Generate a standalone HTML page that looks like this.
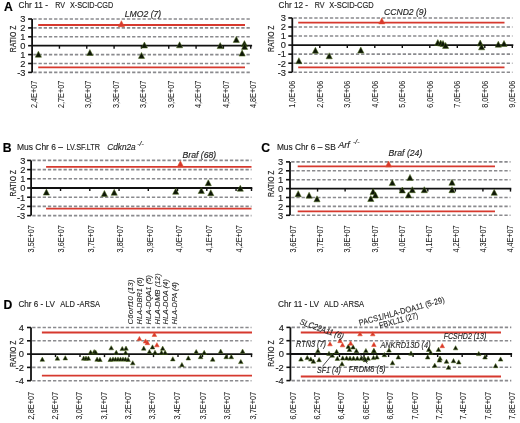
<!DOCTYPE html><html><head><meta charset="utf-8"><style>html,body{margin:0;padding:0;background:#fff;width:520px;height:423px;overflow:hidden}svg{display:block;filter:blur(0.35px)}text{font-family:"Liberation Sans",sans-serif;stroke:currentColor;stroke-width:0.15px}</style></head><body>
<svg width="520" height="423" viewBox="0 0 520 423">
<rect width="520" height="423" fill="#fff"/>
<line x1="33.3" y1="19" x2="251.3" y2="19" stroke="#8a8a8e" stroke-width="1.6" stroke-dasharray="3.3 1.9"/>
<line x1="33.3" y1="27.9" x2="251.3" y2="27.9" stroke="#8a8a8e" stroke-width="1.6" stroke-dasharray="3.3 1.9"/>
<line x1="33.3" y1="36.8" x2="251.3" y2="36.8" stroke="#8a8a8e" stroke-width="1.6" stroke-dasharray="3.3 1.9"/>
<line x1="33.3" y1="54.6" x2="251.3" y2="54.6" stroke="#8a8a8e" stroke-width="1.6" stroke-dasharray="3.3 1.9"/>
<line x1="33.3" y1="63.5" x2="251.3" y2="63.5" stroke="#8a8a8e" stroke-width="1.6" stroke-dasharray="3.3 1.9"/>
<line x1="33.3" y1="72.4" x2="251.3" y2="72.4" stroke="#8a8a8e" stroke-width="1.6" stroke-dasharray="3.3 1.9"/>
<line x1="38.2" y1="25" x2="245" y2="25" stroke="#d6392e" stroke-width="1.8"/>
<line x1="38.2" y1="67.3" x2="245" y2="67.3" stroke="#d6392e" stroke-width="1.8"/>
<line x1="32.1" y1="19" x2="32.1" y2="72.4" stroke="#111" stroke-width="1.8"/>
<line x1="28.1" y1="19" x2="32.1" y2="19" stroke="#111" stroke-width="1.6"/>
<line x1="28.1" y1="27.9" x2="32.1" y2="27.9" stroke="#111" stroke-width="1.6"/>
<line x1="28.1" y1="36.8" x2="32.1" y2="36.8" stroke="#111" stroke-width="1.6"/>
<line x1="28.1" y1="45.7" x2="32.1" y2="45.7" stroke="#111" stroke-width="1.6"/>
<line x1="28.1" y1="54.6" x2="32.1" y2="54.6" stroke="#111" stroke-width="1.6"/>
<line x1="28.1" y1="63.5" x2="32.1" y2="63.5" stroke="#111" stroke-width="1.6"/>
<line x1="28.1" y1="72.4" x2="32.1" y2="72.4" stroke="#111" stroke-width="1.6"/>
<text x="25.5" y="22.3" font-size="9.3" text-anchor="end" fill="#1e1e1e" color="#1e1e1e">3</text>
<text x="25.5" y="31.2" font-size="9.3" text-anchor="end" fill="#1e1e1e" color="#1e1e1e">2</text>
<text x="25.5" y="40.1" font-size="9.3" text-anchor="end" fill="#1e1e1e" color="#1e1e1e">1</text>
<text x="25.5" y="49" font-size="9.3" text-anchor="end" fill="#1e1e1e" color="#1e1e1e">0</text>
<text x="25.5" y="57.9" font-size="9.3" text-anchor="end" fill="#1e1e1e" color="#1e1e1e">1</text>
<text x="25.5" y="66.8" font-size="9.3" text-anchor="end" fill="#1e1e1e" color="#1e1e1e">2</text>
<text x="25.5" y="75.7" font-size="9.3" text-anchor="end" fill="#1e1e1e" color="#1e1e1e">-3</text>
<line x1="32.1" y1="45.7" x2="252.1" y2="45.7" stroke="#111" stroke-width="1.8"/>
<line x1="59.43" y1="45.7" x2="59.43" y2="48.7" stroke="#111" stroke-width="1.4"/>
<line x1="86.76" y1="45.7" x2="86.76" y2="48.7" stroke="#111" stroke-width="1.4"/>
<line x1="114.09" y1="45.7" x2="114.09" y2="48.7" stroke="#111" stroke-width="1.4"/>
<line x1="141.42" y1="45.7" x2="141.42" y2="48.7" stroke="#111" stroke-width="1.4"/>
<line x1="168.75" y1="45.7" x2="168.75" y2="48.7" stroke="#111" stroke-width="1.4"/>
<line x1="196.08" y1="45.7" x2="196.08" y2="48.7" stroke="#111" stroke-width="1.4"/>
<line x1="223.41" y1="45.7" x2="223.41" y2="48.7" stroke="#111" stroke-width="1.4"/>
<line x1="250.74" y1="45.7" x2="250.74" y2="48.7" stroke="#111" stroke-width="1.4"/>
<text transform="translate(15.9 38.9) rotate(-90)" font-size="9.2" text-anchor="middle" fill="#1e1e1e" color="#1e1e1e" textLength="26.5" lengthAdjust="spacingAndGlyphs">RATIO Z</text>
<text transform="translate(36.5 80.8) rotate(-90)" font-size="8.8" text-anchor="end" fill="#1e1e1e" color="#1e1e1e" textLength="27.2" lengthAdjust="spacingAndGlyphs" style="stroke-width:0.05px">2,4E+07</text>
<text transform="translate(63.93 80.8) rotate(-90)" font-size="8.8" text-anchor="end" fill="#1e1e1e" color="#1e1e1e" textLength="27.2" lengthAdjust="spacingAndGlyphs" style="stroke-width:0.05px">2,7E+07</text>
<text transform="translate(91.36 80.8) rotate(-90)" font-size="8.8" text-anchor="end" fill="#1e1e1e" color="#1e1e1e" textLength="27.2" lengthAdjust="spacingAndGlyphs" style="stroke-width:0.05px">3,0E+07</text>
<text transform="translate(118.79 80.8) rotate(-90)" font-size="8.8" text-anchor="end" fill="#1e1e1e" color="#1e1e1e" textLength="27.2" lengthAdjust="spacingAndGlyphs" style="stroke-width:0.05px">3,3E+07</text>
<text transform="translate(146.22 80.8) rotate(-90)" font-size="8.8" text-anchor="end" fill="#1e1e1e" color="#1e1e1e" textLength="27.2" lengthAdjust="spacingAndGlyphs" style="stroke-width:0.05px">3,6E+07</text>
<text transform="translate(173.65 80.8) rotate(-90)" font-size="8.8" text-anchor="end" fill="#1e1e1e" color="#1e1e1e" textLength="27.2" lengthAdjust="spacingAndGlyphs" style="stroke-width:0.05px">3,9E+07</text>
<text transform="translate(201.08 80.8) rotate(-90)" font-size="8.8" text-anchor="end" fill="#1e1e1e" color="#1e1e1e" textLength="27.2" lengthAdjust="spacingAndGlyphs" style="stroke-width:0.05px">4,2E+07</text>
<text transform="translate(228.51 80.8) rotate(-90)" font-size="8.8" text-anchor="end" fill="#1e1e1e" color="#1e1e1e" textLength="27.2" lengthAdjust="spacingAndGlyphs" style="stroke-width:0.05px">4,5E+07</text>
<text transform="translate(255.94 80.8) rotate(-90)" font-size="8.8" text-anchor="end" fill="#1e1e1e" color="#1e1e1e" textLength="27.2" lengthAdjust="spacingAndGlyphs" style="stroke-width:0.05px">4,8E+07</text>
<polygon points="38.4,51.2 35.3,57.2 41.5,57.2" fill="#0e1608" stroke="#4d6a1a" stroke-width="0.5"/>
<polygon points="89.9,49.5 86.8,55.5 93,55.5" fill="#0e1608" stroke="#4d6a1a" stroke-width="0.5"/>
<polygon points="144.4,42 141.3,48 147.5,48" fill="#0e1608" stroke="#4d6a1a" stroke-width="0.5"/>
<polygon points="141.5,52.4 138.4,58.4 144.6,58.4" fill="#0e1608" stroke="#4d6a1a" stroke-width="0.5"/>
<polygon points="179.6,41.8 176.5,47.8 182.7,47.8" fill="#0e1608" stroke="#4d6a1a" stroke-width="0.5"/>
<polygon points="220.2,42.6 217.1,48.6 223.3,48.6" fill="#0e1608" stroke="#4d6a1a" stroke-width="0.5"/>
<polygon points="236.3,36.4 233.2,42.4 239.4,42.4" fill="#0e1608" stroke="#4d6a1a" stroke-width="0.5"/>
<polygon points="244.4,40.6 241.3,46.6 247.5,46.6" fill="#0e1608" stroke="#4d6a1a" stroke-width="0.5"/>
<polygon points="244.6,43.4 241.5,49.4 247.7,49.4" fill="#0e1608" stroke="#4d6a1a" stroke-width="0.5"/>
<polygon points="242.1,50.1 239,56.1 245.2,56.1" fill="#0e1608" stroke="#4d6a1a" stroke-width="0.5"/>
<polygon points="121.4,20.7 118.3,26.7 124.5,26.7" fill="#d6392e" stroke="#e8502a" stroke-width="0.5"/>
<line x1="293.5" y1="17.95" x2="512.5" y2="17.95" stroke="#8a8a8e" stroke-width="1.6" stroke-dasharray="3.3 1.9"/>
<line x1="293.5" y1="27" x2="512.5" y2="27" stroke="#8a8a8e" stroke-width="1.6" stroke-dasharray="3.3 1.9"/>
<line x1="293.5" y1="36.05" x2="512.5" y2="36.05" stroke="#8a8a8e" stroke-width="1.6" stroke-dasharray="3.3 1.9"/>
<line x1="293.5" y1="54.15" x2="512.5" y2="54.15" stroke="#8a8a8e" stroke-width="1.6" stroke-dasharray="3.3 1.9"/>
<line x1="293.5" y1="63.2" x2="512.5" y2="63.2" stroke="#8a8a8e" stroke-width="1.6" stroke-dasharray="3.3 1.9"/>
<line x1="293.5" y1="72.25" x2="512.5" y2="72.25" stroke="#8a8a8e" stroke-width="1.6" stroke-dasharray="3.3 1.9"/>
<line x1="298.2" y1="22.7" x2="504.5" y2="22.7" stroke="#d6392e" stroke-width="1.8"/>
<line x1="298.2" y1="67.3" x2="504.5" y2="67.3" stroke="#d6392e" stroke-width="1.8"/>
<line x1="292.3" y1="17.95" x2="292.3" y2="72.25" stroke="#111" stroke-width="1.8"/>
<line x1="288.3" y1="17.95" x2="292.3" y2="17.95" stroke="#111" stroke-width="1.6"/>
<line x1="288.3" y1="27" x2="292.3" y2="27" stroke="#111" stroke-width="1.6"/>
<line x1="288.3" y1="36.05" x2="292.3" y2="36.05" stroke="#111" stroke-width="1.6"/>
<line x1="288.3" y1="45.1" x2="292.3" y2="45.1" stroke="#111" stroke-width="1.6"/>
<line x1="288.3" y1="54.15" x2="292.3" y2="54.15" stroke="#111" stroke-width="1.6"/>
<line x1="288.3" y1="63.2" x2="292.3" y2="63.2" stroke="#111" stroke-width="1.6"/>
<line x1="288.3" y1="72.25" x2="292.3" y2="72.25" stroke="#111" stroke-width="1.6"/>
<text x="286" y="21.25" font-size="9.3" text-anchor="end" fill="#1e1e1e" color="#1e1e1e">3</text>
<text x="286" y="30.3" font-size="9.3" text-anchor="end" fill="#1e1e1e" color="#1e1e1e">2</text>
<text x="286" y="39.35" font-size="9.3" text-anchor="end" fill="#1e1e1e" color="#1e1e1e">1</text>
<text x="286" y="48.4" font-size="9.3" text-anchor="end" fill="#1e1e1e" color="#1e1e1e">0</text>
<text x="286" y="57.45" font-size="9.3" text-anchor="end" fill="#1e1e1e" color="#1e1e1e">-1</text>
<text x="286" y="66.5" font-size="9.3" text-anchor="end" fill="#1e1e1e" color="#1e1e1e">-2</text>
<text x="286" y="75.55" font-size="9.3" text-anchor="end" fill="#1e1e1e" color="#1e1e1e">-3</text>
<line x1="292.3" y1="45.1" x2="513.3" y2="45.1" stroke="#111" stroke-width="1.8"/>
<line x1="319.8" y1="45.1" x2="319.8" y2="48.1" stroke="#111" stroke-width="1.4"/>
<line x1="347.3" y1="45.1" x2="347.3" y2="48.1" stroke="#111" stroke-width="1.4"/>
<line x1="374.8" y1="45.1" x2="374.8" y2="48.1" stroke="#111" stroke-width="1.4"/>
<line x1="402.3" y1="45.1" x2="402.3" y2="48.1" stroke="#111" stroke-width="1.4"/>
<line x1="429.8" y1="45.1" x2="429.8" y2="48.1" stroke="#111" stroke-width="1.4"/>
<line x1="457.3" y1="45.1" x2="457.3" y2="48.1" stroke="#111" stroke-width="1.4"/>
<line x1="484.8" y1="45.1" x2="484.8" y2="48.1" stroke="#111" stroke-width="1.4"/>
<line x1="512.3" y1="45.1" x2="512.3" y2="48.1" stroke="#111" stroke-width="1.4"/>
<text transform="translate(274 38.7) rotate(-90)" font-size="9.2" text-anchor="middle" fill="#1e1e1e" color="#1e1e1e" textLength="26.5" lengthAdjust="spacingAndGlyphs">RATIO Z</text>
<text transform="translate(295.1 80.6) rotate(-90)" font-size="8.8" text-anchor="end" fill="#1e1e1e" color="#1e1e1e" textLength="27.2" lengthAdjust="spacingAndGlyphs" style="stroke-width:0.05px">1,0E+06</text>
<text transform="translate(322.6 80.6) rotate(-90)" font-size="8.8" text-anchor="end" fill="#1e1e1e" color="#1e1e1e" textLength="27.2" lengthAdjust="spacingAndGlyphs" style="stroke-width:0.05px">2,0E+06</text>
<text transform="translate(350.1 80.6) rotate(-90)" font-size="8.8" text-anchor="end" fill="#1e1e1e" color="#1e1e1e" textLength="27.2" lengthAdjust="spacingAndGlyphs" style="stroke-width:0.05px">3,0E+06</text>
<text transform="translate(377.6 80.6) rotate(-90)" font-size="8.8" text-anchor="end" fill="#1e1e1e" color="#1e1e1e" textLength="27.2" lengthAdjust="spacingAndGlyphs" style="stroke-width:0.05px">4,0E+06</text>
<text transform="translate(405.1 80.6) rotate(-90)" font-size="8.8" text-anchor="end" fill="#1e1e1e" color="#1e1e1e" textLength="27.2" lengthAdjust="spacingAndGlyphs" style="stroke-width:0.05px">5,0E+06</text>
<text transform="translate(432.6 80.6) rotate(-90)" font-size="8.8" text-anchor="end" fill="#1e1e1e" color="#1e1e1e" textLength="27.2" lengthAdjust="spacingAndGlyphs" style="stroke-width:0.05px">6,0E+06</text>
<text transform="translate(460.1 80.6) rotate(-90)" font-size="8.8" text-anchor="end" fill="#1e1e1e" color="#1e1e1e" textLength="27.2" lengthAdjust="spacingAndGlyphs" style="stroke-width:0.05px">7,0E+06</text>
<text transform="translate(487.6 80.6) rotate(-90)" font-size="8.8" text-anchor="end" fill="#1e1e1e" color="#1e1e1e" textLength="27.2" lengthAdjust="spacingAndGlyphs" style="stroke-width:0.05px">8,0E+06</text>
<text transform="translate(515.1 80.6) rotate(-90)" font-size="8.8" text-anchor="end" fill="#1e1e1e" color="#1e1e1e" textLength="27.2" lengthAdjust="spacingAndGlyphs" style="stroke-width:0.05px">9,0E+06</text>
<polygon points="298.9,57.7 295.8,63.7 302,63.7" fill="#0e1608" stroke="#4d6a1a" stroke-width="0.5"/>
<polygon points="315.4,47.3 312.3,53.3 318.5,53.3" fill="#0e1608" stroke="#4d6a1a" stroke-width="0.5"/>
<polygon points="329.2,52.8 326.1,58.8 332.3,58.8" fill="#0e1608" stroke="#4d6a1a" stroke-width="0.5"/>
<polygon points="360.8,47 357.7,53 363.9,53" fill="#0e1608" stroke="#4d6a1a" stroke-width="0.5"/>
<polygon points="437.8,39.5 434.7,45.5 440.9,45.5" fill="#0e1608" stroke="#4d6a1a" stroke-width="0.5"/>
<polygon points="440.7,40 437.6,46 443.8,46" fill="#0e1608" stroke="#4d6a1a" stroke-width="0.5"/>
<polygon points="443,40.5 439.9,46.5 446.1,46.5" fill="#0e1608" stroke="#4d6a1a" stroke-width="0.5"/>
<polygon points="445.6,42.4 442.5,48.4 448.7,48.4" fill="#0e1608" stroke="#4d6a1a" stroke-width="0.5"/>
<polygon points="480.2,40 477.1,46 483.3,46" fill="#0e1608" stroke="#4d6a1a" stroke-width="0.5"/>
<polygon points="481.6,43.8 478.5,49.8 484.7,49.8" fill="#0e1608" stroke="#4d6a1a" stroke-width="0.5"/>
<polygon points="498.3,41.2 495.2,47.2 501.4,47.2" fill="#0e1608" stroke="#4d6a1a" stroke-width="0.5"/>
<polygon points="504,40.5 500.9,46.5 507.1,46.5" fill="#0e1608" stroke="#4d6a1a" stroke-width="0.5"/>
<polygon points="381.8,17.9 378.7,23.9 384.9,23.9" fill="#d6392e" stroke="#e8502a" stroke-width="0.5"/>
<line x1="32.3" y1="160.4" x2="251.5" y2="160.4" stroke="#8a8a8e" stroke-width="1.6" stroke-dasharray="3.3 1.9"/>
<line x1="32.3" y1="169.6" x2="251.5" y2="169.6" stroke="#8a8a8e" stroke-width="1.6" stroke-dasharray="3.3 1.9"/>
<line x1="32.3" y1="178.8" x2="251.5" y2="178.8" stroke="#8a8a8e" stroke-width="1.6" stroke-dasharray="3.3 1.9"/>
<line x1="32.3" y1="197.2" x2="251.5" y2="197.2" stroke="#8a8a8e" stroke-width="1.6" stroke-dasharray="3.3 1.9"/>
<line x1="32.3" y1="206.4" x2="251.5" y2="206.4" stroke="#8a8a8e" stroke-width="1.6" stroke-dasharray="3.3 1.9"/>
<line x1="32.3" y1="215.6" x2="251.5" y2="215.6" stroke="#8a8a8e" stroke-width="1.6" stroke-dasharray="3.3 1.9"/>
<line x1="46.1" y1="166.8" x2="251.5" y2="166.8" stroke="#d6392e" stroke-width="1.8"/>
<line x1="46.1" y1="208.7" x2="251.5" y2="208.7" stroke="#d6392e" stroke-width="1.8"/>
<line x1="31.1" y1="160.4" x2="31.1" y2="215.6" stroke="#111" stroke-width="1.8"/>
<line x1="27.1" y1="160.4" x2="31.1" y2="160.4" stroke="#111" stroke-width="1.6"/>
<line x1="27.1" y1="169.6" x2="31.1" y2="169.6" stroke="#111" stroke-width="1.6"/>
<line x1="27.1" y1="178.8" x2="31.1" y2="178.8" stroke="#111" stroke-width="1.6"/>
<line x1="27.1" y1="188" x2="31.1" y2="188" stroke="#111" stroke-width="1.6"/>
<line x1="27.1" y1="197.2" x2="31.1" y2="197.2" stroke="#111" stroke-width="1.6"/>
<line x1="27.1" y1="206.4" x2="31.1" y2="206.4" stroke="#111" stroke-width="1.6"/>
<line x1="27.1" y1="215.6" x2="31.1" y2="215.6" stroke="#111" stroke-width="1.6"/>
<text x="25.3" y="163.7" font-size="9.3" text-anchor="end" fill="#1e1e1e" color="#1e1e1e">3</text>
<text x="25.3" y="172.9" font-size="9.3" text-anchor="end" fill="#1e1e1e" color="#1e1e1e">2</text>
<text x="25.3" y="182.1" font-size="9.3" text-anchor="end" fill="#1e1e1e" color="#1e1e1e">1</text>
<text x="25.3" y="191.3" font-size="9.3" text-anchor="end" fill="#1e1e1e" color="#1e1e1e">0</text>
<text x="25.3" y="200.5" font-size="9.3" text-anchor="end" fill="#1e1e1e" color="#1e1e1e">-1</text>
<text x="25.3" y="209.7" font-size="9.3" text-anchor="end" fill="#1e1e1e" color="#1e1e1e">-2</text>
<text x="25.3" y="218.9" font-size="9.3" text-anchor="end" fill="#1e1e1e" color="#1e1e1e">-3</text>
<line x1="31.1" y1="188" x2="252.3" y2="188" stroke="#111" stroke-width="1.8"/>
<line x1="60.55" y1="188" x2="60.55" y2="191" stroke="#111" stroke-width="1.4"/>
<line x1="89.8" y1="188" x2="89.8" y2="191" stroke="#111" stroke-width="1.4"/>
<line x1="119.05" y1="188" x2="119.05" y2="191" stroke="#111" stroke-width="1.4"/>
<line x1="148.3" y1="188" x2="148.3" y2="191" stroke="#111" stroke-width="1.4"/>
<line x1="177.55" y1="188" x2="177.55" y2="191" stroke="#111" stroke-width="1.4"/>
<line x1="206.8" y1="188" x2="206.8" y2="191" stroke="#111" stroke-width="1.4"/>
<line x1="236.05" y1="188" x2="236.05" y2="191" stroke="#111" stroke-width="1.4"/>
<line x1="251.5" y1="188" x2="251.5" y2="191" stroke="#111" stroke-width="1.4"/>
<text transform="translate(15.9 183.2) rotate(-90)" font-size="9.2" text-anchor="middle" fill="#1e1e1e" color="#1e1e1e" textLength="26.5" lengthAdjust="spacingAndGlyphs">RATIO Z</text>
<text transform="translate(34.3 225.2) rotate(-90)" font-size="8.8" text-anchor="end" fill="#1e1e1e" color="#1e1e1e" textLength="27.2" lengthAdjust="spacingAndGlyphs" style="stroke-width:0.05px">3,5E+07</text>
<text transform="translate(63.9 225.2) rotate(-90)" font-size="8.8" text-anchor="end" fill="#1e1e1e" color="#1e1e1e" textLength="27.2" lengthAdjust="spacingAndGlyphs" style="stroke-width:0.05px">3,6E+07</text>
<text transform="translate(93.5 225.2) rotate(-90)" font-size="8.8" text-anchor="end" fill="#1e1e1e" color="#1e1e1e" textLength="27.2" lengthAdjust="spacingAndGlyphs" style="stroke-width:0.05px">3,7E+07</text>
<text transform="translate(123.1 225.2) rotate(-90)" font-size="8.8" text-anchor="end" fill="#1e1e1e" color="#1e1e1e" textLength="27.2" lengthAdjust="spacingAndGlyphs" style="stroke-width:0.05px">3,8E+07</text>
<text transform="translate(152.7 225.2) rotate(-90)" font-size="8.8" text-anchor="end" fill="#1e1e1e" color="#1e1e1e" textLength="27.2" lengthAdjust="spacingAndGlyphs" style="stroke-width:0.05px">3,9E+07</text>
<text transform="translate(182.3 225.2) rotate(-90)" font-size="8.8" text-anchor="end" fill="#1e1e1e" color="#1e1e1e" textLength="27.2" lengthAdjust="spacingAndGlyphs" style="stroke-width:0.05px">4,0E+07</text>
<text transform="translate(211.9 225.2) rotate(-90)" font-size="8.8" text-anchor="end" fill="#1e1e1e" color="#1e1e1e" textLength="27.2" lengthAdjust="spacingAndGlyphs" style="stroke-width:0.05px">4,1E+07</text>
<text transform="translate(241.5 225.2) rotate(-90)" font-size="8.8" text-anchor="end" fill="#1e1e1e" color="#1e1e1e" textLength="27.2" lengthAdjust="spacingAndGlyphs" style="stroke-width:0.05px">4,2E+07</text>
<polygon points="46.4,189.1 43.3,195.1 49.5,195.1" fill="#0e1608" stroke="#4d6a1a" stroke-width="0.5"/>
<polygon points="104.4,190.4 101.3,196.4 107.5,196.4" fill="#0e1608" stroke="#4d6a1a" stroke-width="0.5"/>
<polygon points="114.2,189.3 111.1,195.3 117.3,195.3" fill="#0e1608" stroke="#4d6a1a" stroke-width="0.5"/>
<polygon points="175.7,188.3 172.6,194.3 178.8,194.3" fill="#0e1608" stroke="#4d6a1a" stroke-width="0.5"/>
<polygon points="201.3,187.5 198.2,193.5 204.4,193.5" fill="#0e1608" stroke="#4d6a1a" stroke-width="0.5"/>
<polygon points="208.3,179.7 205.2,185.7 211.4,185.7" fill="#0e1608" stroke="#4d6a1a" stroke-width="0.5"/>
<polygon points="210.8,189.7 207.7,195.7 213.9,195.7" fill="#0e1608" stroke="#4d6a1a" stroke-width="0.5"/>
<polygon points="240.3,185.2 237.2,191.2 243.4,191.2" fill="#0e1608" stroke="#4d6a1a" stroke-width="0.5"/>
<polygon points="180.4,160.8 177.3,166.8 183.5,166.8" fill="#d6392e" stroke="#e8502a" stroke-width="0.5"/>
<line x1="291.2" y1="161.9" x2="510.5" y2="161.9" stroke="#8a8a8e" stroke-width="1.6" stroke-dasharray="3.3 1.9"/>
<line x1="291.2" y1="170.8" x2="510.5" y2="170.8" stroke="#8a8a8e" stroke-width="1.6" stroke-dasharray="3.3 1.9"/>
<line x1="291.2" y1="179.7" x2="510.5" y2="179.7" stroke="#8a8a8e" stroke-width="1.6" stroke-dasharray="3.3 1.9"/>
<line x1="291.2" y1="197.5" x2="510.5" y2="197.5" stroke="#8a8a8e" stroke-width="1.6" stroke-dasharray="3.3 1.9"/>
<line x1="291.2" y1="206.4" x2="510.5" y2="206.4" stroke="#8a8a8e" stroke-width="1.6" stroke-dasharray="3.3 1.9"/>
<line x1="291.2" y1="215.3" x2="510.5" y2="215.3" stroke="#8a8a8e" stroke-width="1.6" stroke-dasharray="3.3 1.9"/>
<line x1="297.7" y1="166.3" x2="495" y2="166.3" stroke="#d6392e" stroke-width="1.8"/>
<line x1="297.7" y1="211.4" x2="495" y2="211.4" stroke="#d6392e" stroke-width="1.8"/>
<line x1="290" y1="161.9" x2="290" y2="215.3" stroke="#111" stroke-width="1.8"/>
<line x1="286" y1="161.9" x2="290" y2="161.9" stroke="#111" stroke-width="1.6"/>
<line x1="286" y1="170.8" x2="290" y2="170.8" stroke="#111" stroke-width="1.6"/>
<line x1="286" y1="179.7" x2="290" y2="179.7" stroke="#111" stroke-width="1.6"/>
<line x1="286" y1="188.6" x2="290" y2="188.6" stroke="#111" stroke-width="1.6"/>
<line x1="286" y1="197.5" x2="290" y2="197.5" stroke="#111" stroke-width="1.6"/>
<line x1="286" y1="206.4" x2="290" y2="206.4" stroke="#111" stroke-width="1.6"/>
<line x1="286" y1="215.3" x2="290" y2="215.3" stroke="#111" stroke-width="1.6"/>
<text x="283.1" y="165.2" font-size="9.3" text-anchor="end" fill="#1e1e1e" color="#1e1e1e">3</text>
<text x="283.1" y="174.1" font-size="9.3" text-anchor="end" fill="#1e1e1e" color="#1e1e1e">2</text>
<text x="283.1" y="183" font-size="9.3" text-anchor="end" fill="#1e1e1e" color="#1e1e1e">1</text>
<text x="283.1" y="191.9" font-size="9.3" text-anchor="end" fill="#1e1e1e" color="#1e1e1e">0</text>
<text x="283.1" y="200.8" font-size="9.3" text-anchor="end" fill="#1e1e1e" color="#1e1e1e">1</text>
<text x="283.1" y="209.7" font-size="9.3" text-anchor="end" fill="#1e1e1e" color="#1e1e1e">2</text>
<text x="283.1" y="218.6" font-size="9.3" text-anchor="end" fill="#1e1e1e" color="#1e1e1e">3</text>
<line x1="290" y1="188.6" x2="511.3" y2="188.6" stroke="#111" stroke-width="1.8"/>
<line x1="317.56" y1="188.6" x2="317.56" y2="191.6" stroke="#111" stroke-width="1.4"/>
<line x1="345.12" y1="188.6" x2="345.12" y2="191.6" stroke="#111" stroke-width="1.4"/>
<line x1="372.68" y1="188.6" x2="372.68" y2="191.6" stroke="#111" stroke-width="1.4"/>
<line x1="400.24" y1="188.6" x2="400.24" y2="191.6" stroke="#111" stroke-width="1.4"/>
<line x1="427.8" y1="188.6" x2="427.8" y2="191.6" stroke="#111" stroke-width="1.4"/>
<line x1="455.36" y1="188.6" x2="455.36" y2="191.6" stroke="#111" stroke-width="1.4"/>
<line x1="482.92" y1="188.6" x2="482.92" y2="191.6" stroke="#111" stroke-width="1.4"/>
<line x1="510.48" y1="188.6" x2="510.48" y2="191.6" stroke="#111" stroke-width="1.4"/>
<text transform="translate(273.9 183.7) rotate(-90)" font-size="9.2" text-anchor="middle" fill="#1e1e1e" color="#1e1e1e" textLength="26.5" lengthAdjust="spacingAndGlyphs">RATIO Z</text>
<text transform="translate(296.2 225.4) rotate(-90)" font-size="8.8" text-anchor="end" fill="#1e1e1e" color="#1e1e1e" textLength="27.2" lengthAdjust="spacingAndGlyphs" style="stroke-width:0.05px">3,6E+07</text>
<text transform="translate(323.3 225.4) rotate(-90)" font-size="8.8" text-anchor="end" fill="#1e1e1e" color="#1e1e1e" textLength="27.2" lengthAdjust="spacingAndGlyphs" style="stroke-width:0.05px">3,7E+07</text>
<text transform="translate(350.4 225.4) rotate(-90)" font-size="8.8" text-anchor="end" fill="#1e1e1e" color="#1e1e1e" textLength="27.2" lengthAdjust="spacingAndGlyphs" style="stroke-width:0.05px">3,8E+07</text>
<text transform="translate(377.5 225.4) rotate(-90)" font-size="8.8" text-anchor="end" fill="#1e1e1e" color="#1e1e1e" textLength="27.2" lengthAdjust="spacingAndGlyphs" style="stroke-width:0.05px">3,9E+07</text>
<text transform="translate(404.6 225.4) rotate(-90)" font-size="8.8" text-anchor="end" fill="#1e1e1e" color="#1e1e1e" textLength="27.2" lengthAdjust="spacingAndGlyphs" style="stroke-width:0.05px">4,0E+07</text>
<text transform="translate(431.7 225.4) rotate(-90)" font-size="8.8" text-anchor="end" fill="#1e1e1e" color="#1e1e1e" textLength="27.2" lengthAdjust="spacingAndGlyphs" style="stroke-width:0.05px">4,1E+07</text>
<text transform="translate(458.8 225.4) rotate(-90)" font-size="8.8" text-anchor="end" fill="#1e1e1e" color="#1e1e1e" textLength="27.2" lengthAdjust="spacingAndGlyphs" style="stroke-width:0.05px">4,2E+07</text>
<text transform="translate(485.9 225.4) rotate(-90)" font-size="8.8" text-anchor="end" fill="#1e1e1e" color="#1e1e1e" textLength="27.2" lengthAdjust="spacingAndGlyphs" style="stroke-width:0.05px">4,3E+07</text>
<text transform="translate(513 225.4) rotate(-90)" font-size="8.8" text-anchor="end" fill="#1e1e1e" color="#1e1e1e" textLength="27.2" lengthAdjust="spacingAndGlyphs" style="stroke-width:0.05px">4,4E+07</text>
<polygon points="298.2,190.7 295.1,196.7 301.3,196.7" fill="#0e1608" stroke="#4d6a1a" stroke-width="0.5"/>
<polygon points="309.1,192.2 306,198.2 312.2,198.2" fill="#0e1608" stroke="#4d6a1a" stroke-width="0.5"/>
<polygon points="317,195.8 313.9,201.8 320.1,201.8" fill="#0e1608" stroke="#4d6a1a" stroke-width="0.5"/>
<polygon points="373.1,188.5 370,194.5 376.2,194.5" fill="#0e1608" stroke="#4d6a1a" stroke-width="0.5"/>
<polygon points="375.4,191.9 372.3,197.9 378.5,197.9" fill="#0e1608" stroke="#4d6a1a" stroke-width="0.5"/>
<polygon points="370.8,195.5 367.7,201.5 373.9,201.5" fill="#0e1608" stroke="#4d6a1a" stroke-width="0.5"/>
<polygon points="392.3,179.6 389.2,185.6 395.4,185.6" fill="#0e1608" stroke="#4d6a1a" stroke-width="0.5"/>
<polygon points="410,174.4 406.9,180.4 413.1,180.4" fill="#0e1608" stroke="#4d6a1a" stroke-width="0.5"/>
<polygon points="402.3,187 399.2,193 405.4,193" fill="#0e1608" stroke="#4d6a1a" stroke-width="0.5"/>
<polygon points="412.3,186.7 409.2,192.7 415.4,192.7" fill="#0e1608" stroke="#4d6a1a" stroke-width="0.5"/>
<polygon points="408.5,191.9 405.4,197.9 411.6,197.9" fill="#0e1608" stroke="#4d6a1a" stroke-width="0.5"/>
<polygon points="424.3,186.7 421.2,192.7 427.4,192.7" fill="#0e1608" stroke="#4d6a1a" stroke-width="0.5"/>
<polygon points="452,179.3 448.9,185.3 455.1,185.3" fill="#0e1608" stroke="#4d6a1a" stroke-width="0.5"/>
<polygon points="452,186.7 448.9,192.7 455.1,192.7" fill="#0e1608" stroke="#4d6a1a" stroke-width="0.5"/>
<polygon points="494.2,189.3 491.1,195.3 497.3,195.3" fill="#0e1608" stroke="#4d6a1a" stroke-width="0.5"/>
<polygon points="388.6,161 385.5,167 391.7,167" fill="#d6392e" stroke="#e8502a" stroke-width="0.5"/>
<line x1="32.2" y1="327.5" x2="251.5" y2="327.5" stroke="#8a8a8e" stroke-width="1.6" stroke-dasharray="3.3 1.9"/>
<line x1="32.2" y1="340.8" x2="251.5" y2="340.8" stroke="#8a8a8e" stroke-width="1.6" stroke-dasharray="3.3 1.9"/>
<line x1="32.2" y1="367.4" x2="251.5" y2="367.4" stroke="#8a8a8e" stroke-width="1.6" stroke-dasharray="3.3 1.9"/>
<line x1="32.2" y1="380.7" x2="251.5" y2="380.7" stroke="#8a8a8e" stroke-width="1.6" stroke-dasharray="3.3 1.9"/>
<line x1="41.9" y1="332.5" x2="252" y2="332.5" stroke="#d6392e" stroke-width="1.8"/>
<line x1="41.9" y1="375.7" x2="252" y2="375.7" stroke="#d6392e" stroke-width="1.8"/>
<line x1="31" y1="327.5" x2="31" y2="380.7" stroke="#111" stroke-width="1.8"/>
<line x1="27" y1="327.5" x2="31" y2="327.5" stroke="#111" stroke-width="1.6"/>
<line x1="27" y1="340.8" x2="31" y2="340.8" stroke="#111" stroke-width="1.6"/>
<line x1="27" y1="354.1" x2="31" y2="354.1" stroke="#111" stroke-width="1.6"/>
<line x1="27" y1="367.4" x2="31" y2="367.4" stroke="#111" stroke-width="1.6"/>
<line x1="27" y1="380.7" x2="31" y2="380.7" stroke="#111" stroke-width="1.6"/>
<text x="23.9" y="330.8" font-size="9.3" text-anchor="end" fill="#1e1e1e" color="#1e1e1e">4</text>
<text x="23.9" y="344.1" font-size="9.3" text-anchor="end" fill="#1e1e1e" color="#1e1e1e">2</text>
<text x="23.9" y="357.4" font-size="9.3" text-anchor="end" fill="#1e1e1e" color="#1e1e1e">0</text>
<text x="23.9" y="370.7" font-size="9.3" text-anchor="end" fill="#1e1e1e" color="#1e1e1e">-2</text>
<text x="23.9" y="384" font-size="9.3" text-anchor="end" fill="#1e1e1e" color="#1e1e1e">-4</text>
<line x1="31" y1="354.1" x2="252.3" y2="354.1" stroke="#111" stroke-width="1.8"/>
<line x1="55.5" y1="354.1" x2="55.5" y2="357.1" stroke="#111" stroke-width="1.4"/>
<line x1="80" y1="354.1" x2="80" y2="357.1" stroke="#111" stroke-width="1.4"/>
<line x1="104.5" y1="354.1" x2="104.5" y2="357.1" stroke="#111" stroke-width="1.4"/>
<line x1="129" y1="354.1" x2="129" y2="357.1" stroke="#111" stroke-width="1.4"/>
<line x1="153.5" y1="354.1" x2="153.5" y2="357.1" stroke="#111" stroke-width="1.4"/>
<line x1="178" y1="354.1" x2="178" y2="357.1" stroke="#111" stroke-width="1.4"/>
<line x1="202.5" y1="354.1" x2="202.5" y2="357.1" stroke="#111" stroke-width="1.4"/>
<line x1="227" y1="354.1" x2="227" y2="357.1" stroke="#111" stroke-width="1.4"/>
<line x1="251.5" y1="354.1" x2="251.5" y2="357.1" stroke="#111" stroke-width="1.4"/>
<text transform="translate(16.1 353.8) rotate(-90)" font-size="9.2" text-anchor="middle" fill="#1e1e1e" color="#1e1e1e" textLength="26.5" lengthAdjust="spacingAndGlyphs">RATIO Z</text>
<text transform="translate(33.6 391.9) rotate(-90)" font-size="8.8" text-anchor="end" fill="#1e1e1e" color="#1e1e1e" textLength="27.6" lengthAdjust="spacingAndGlyphs" style="stroke-width:0.05px">2,8E+07</text>
<text transform="translate(57.6 391.9) rotate(-90)" font-size="8.8" text-anchor="end" fill="#1e1e1e" color="#1e1e1e" textLength="27.6" lengthAdjust="spacingAndGlyphs" style="stroke-width:0.05px">2,9E+07</text>
<text transform="translate(81.6 391.9) rotate(-90)" font-size="8.8" text-anchor="end" fill="#1e1e1e" color="#1e1e1e" textLength="27.6" lengthAdjust="spacingAndGlyphs" style="stroke-width:0.05px">3,0E+07</text>
<text transform="translate(107 391.9) rotate(-90)" font-size="8.8" text-anchor="end" fill="#1e1e1e" color="#1e1e1e" textLength="27.6" lengthAdjust="spacingAndGlyphs" style="stroke-width:0.05px">3,1E+07</text>
<text transform="translate(130.7 391.9) rotate(-90)" font-size="8.8" text-anchor="end" fill="#1e1e1e" color="#1e1e1e" textLength="27.6" lengthAdjust="spacingAndGlyphs" style="stroke-width:0.05px">3,2E+07</text>
<text transform="translate(154.5 391.9) rotate(-90)" font-size="8.8" text-anchor="end" fill="#1e1e1e" color="#1e1e1e" textLength="27.6" lengthAdjust="spacingAndGlyphs" style="stroke-width:0.05px">3,3E+07</text>
<text transform="translate(179.9 391.9) rotate(-90)" font-size="8.8" text-anchor="end" fill="#1e1e1e" color="#1e1e1e" textLength="27.6" lengthAdjust="spacingAndGlyphs" style="stroke-width:0.05px">3,4E+07</text>
<text transform="translate(205.9 391.9) rotate(-90)" font-size="8.8" text-anchor="end" fill="#1e1e1e" color="#1e1e1e" textLength="27.6" lengthAdjust="spacingAndGlyphs" style="stroke-width:0.05px">3,5E+07</text>
<text transform="translate(230.3 391.9) rotate(-90)" font-size="8.8" text-anchor="end" fill="#1e1e1e" color="#1e1e1e" textLength="27.6" lengthAdjust="spacingAndGlyphs" style="stroke-width:0.05px">3,6E+07</text>
<text transform="translate(255.9 391.9) rotate(-90)" font-size="8.8" text-anchor="end" fill="#1e1e1e" color="#1e1e1e" textLength="27.6" lengthAdjust="spacingAndGlyphs" style="stroke-width:0.05px">3,7E+07</text>
<polygon points="42.3,357.1 40,361.3 44.6,361.3" fill="#0e1608" stroke="#4d6a1a" stroke-width="0.5"/>
<polygon points="57.4,356 55.1,360.2 59.7,360.2" fill="#0e1608" stroke="#4d6a1a" stroke-width="0.5"/>
<polygon points="65.3,355.7 63,359.9 67.6,359.9" fill="#0e1608" stroke="#4d6a1a" stroke-width="0.5"/>
<polygon points="83.7,356 81.4,360.2 86,360.2" fill="#0e1608" stroke="#4d6a1a" stroke-width="0.5"/>
<polygon points="86,356 83.7,360.2 88.3,360.2" fill="#0e1608" stroke="#4d6a1a" stroke-width="0.5"/>
<polygon points="88.4,356 86.1,360.2 90.7,360.2" fill="#0e1608" stroke="#4d6a1a" stroke-width="0.5"/>
<polygon points="90.6,349.9 88.3,354.1 92.9,354.1" fill="#0e1608" stroke="#4d6a1a" stroke-width="0.5"/>
<polygon points="94.2,349.5 91.9,353.7 96.5,353.7" fill="#0e1608" stroke="#4d6a1a" stroke-width="0.5"/>
<polygon points="95.6,349.9 93.3,354.1 97.9,354.1" fill="#0e1608" stroke="#4d6a1a" stroke-width="0.5"/>
<polygon points="97.1,357.1 94.8,361.3 99.4,361.3" fill="#0e1608" stroke="#4d6a1a" stroke-width="0.5"/>
<polygon points="99.9,357.3 97.6,361.5 102.2,361.5" fill="#0e1608" stroke="#4d6a1a" stroke-width="0.5"/>
<polygon points="111.25,345.65 108.95,349.85 113.55,349.85" fill="#0e1608" stroke="#4d6a1a" stroke-width="0.5"/>
<polygon points="116.25,350.15 113.95,354.35 118.55,354.35" fill="#0e1608" stroke="#4d6a1a" stroke-width="0.5"/>
<polygon points="122.25,346.4 119.95,350.6 124.55,350.6" fill="#0e1608" stroke="#4d6a1a" stroke-width="0.5"/>
<polygon points="126,346 123.7,350.2 128.3,350.2" fill="#0e1608" stroke="#4d6a1a" stroke-width="0.5"/>
<polygon points="125.6,350.4 123.3,354.6 127.9,354.6" fill="#0e1608" stroke="#4d6a1a" stroke-width="0.5"/>
<polygon points="110.25,357.3 107.95,361.5 112.55,361.5" fill="#0e1608" stroke="#4d6a1a" stroke-width="0.5"/>
<polygon points="113,356.9 110.7,361.1 115.3,361.1" fill="#0e1608" stroke="#4d6a1a" stroke-width="0.5"/>
<polygon points="115.5,356.9 113.2,361.1 117.8,361.1" fill="#0e1608" stroke="#4d6a1a" stroke-width="0.5"/>
<polygon points="118,356.9 115.7,361.1 120.3,361.1" fill="#0e1608" stroke="#4d6a1a" stroke-width="0.5"/>
<polygon points="120.5,356.9 118.2,361.1 122.8,361.1" fill="#0e1608" stroke="#4d6a1a" stroke-width="0.5"/>
<polygon points="123,356.9 120.7,361.1 125.3,361.1" fill="#0e1608" stroke="#4d6a1a" stroke-width="0.5"/>
<polygon points="125.5,356.9 123.2,361.1 127.8,361.1" fill="#0e1608" stroke="#4d6a1a" stroke-width="0.5"/>
<polygon points="128.1,357.3 125.8,361.5 130.4,361.5" fill="#0e1608" stroke="#4d6a1a" stroke-width="0.5"/>
<polygon points="132.75,360.65 130.45,364.85 135.05,364.85" fill="#0e1608" stroke="#4d6a1a" stroke-width="0.5"/>
<polygon points="143.75,346 141.45,350.2 146.05,350.2" fill="#0e1608" stroke="#4d6a1a" stroke-width="0.5"/>
<polygon points="149.4,349.4 147.1,353.6 151.7,353.6" fill="#0e1608" stroke="#4d6a1a" stroke-width="0.5"/>
<polygon points="152.5,344.8 150.2,349 154.8,349" fill="#0e1608" stroke="#4d6a1a" stroke-width="0.5"/>
<polygon points="155,350.15 152.7,354.35 157.3,354.35" fill="#0e1608" stroke="#4d6a1a" stroke-width="0.5"/>
<polygon points="161.5,350.3 159.2,354.5 163.8,354.5" fill="#0e1608" stroke="#4d6a1a" stroke-width="0.5"/>
<polygon points="162.7,346.1 160.4,350.3 165,350.3" fill="#0e1608" stroke="#4d6a1a" stroke-width="0.5"/>
<polygon points="165.1,350.3 162.8,354.5 167.4,354.5" fill="#0e1608" stroke="#4d6a1a" stroke-width="0.5"/>
<polygon points="172.8,356.7 170.5,360.9 175.1,360.9" fill="#0e1608" stroke="#4d6a1a" stroke-width="0.5"/>
<polygon points="181.9,362.5 179.6,366.7 184.2,366.7" fill="#0e1608" stroke="#4d6a1a" stroke-width="0.5"/>
<polygon points="188.3,355.8 186,360 190.6,360" fill="#0e1608" stroke="#4d6a1a" stroke-width="0.5"/>
<polygon points="196.2,349.4 193.9,353.6 198.5,353.6" fill="#0e1608" stroke="#4d6a1a" stroke-width="0.5"/>
<polygon points="200.6,354.5 198.3,358.7 202.9,358.7" fill="#0e1608" stroke="#4d6a1a" stroke-width="0.5"/>
<polygon points="204.2,350.3 201.9,354.5 206.5,354.5" fill="#0e1608" stroke="#4d6a1a" stroke-width="0.5"/>
<polygon points="212.7,357 210.4,361.2 215,361.2" fill="#0e1608" stroke="#4d6a1a" stroke-width="0.5"/>
<polygon points="220.7,349 218.4,353.2 223,353.2" fill="#0e1608" stroke="#4d6a1a" stroke-width="0.5"/>
<polygon points="226.2,354.5 223.9,358.7 228.5,358.7" fill="#0e1608" stroke="#4d6a1a" stroke-width="0.5"/>
<polygon points="231.3,354.5 229,358.7 233.6,358.7" fill="#0e1608" stroke="#4d6a1a" stroke-width="0.5"/>
<polygon points="240.8,359.4 238.5,363.6 243.1,363.6" fill="#0e1608" stroke="#4d6a1a" stroke-width="0.5"/>
<polygon points="242.6,349 240.3,353.2 244.9,353.2" fill="#0e1608" stroke="#4d6a1a" stroke-width="0.5"/>
<polygon points="139.4,336.4 137.1,340.6 141.7,340.6" fill="#d6392e" stroke="#e8502a" stroke-width="0.5"/>
<polygon points="145.6,338.9 143.3,343.1 147.9,343.1" fill="#d6392e" stroke="#e8502a" stroke-width="0.5"/>
<polygon points="147.4,340.5 145.1,344.7 149.7,344.7" fill="#d6392e" stroke="#e8502a" stroke-width="0.5"/>
<polygon points="154.4,332.3 152.1,336.5 156.7,336.5" fill="#d6392e" stroke="#e8502a" stroke-width="0.5"/>
<polygon points="156.9,342.65 154.6,346.85 159.2,346.85" fill="#d6392e" stroke="#e8502a" stroke-width="0.5"/>
<line x1="291.6" y1="327.4" x2="511.3" y2="327.4" stroke="#8a8a8e" stroke-width="1.6" stroke-dasharray="3.3 1.9"/>
<line x1="291.6" y1="340.7" x2="511.3" y2="340.7" stroke="#8a8a8e" stroke-width="1.6" stroke-dasharray="3.3 1.9"/>
<line x1="291.6" y1="367.3" x2="511.3" y2="367.3" stroke="#8a8a8e" stroke-width="1.6" stroke-dasharray="3.3 1.9"/>
<line x1="291.6" y1="380.6" x2="511.3" y2="380.6" stroke="#8a8a8e" stroke-width="1.6" stroke-dasharray="3.3 1.9"/>
<line x1="300.8" y1="332.5" x2="501" y2="332.5" stroke="#d6392e" stroke-width="1.8"/>
<line x1="300.8" y1="376.5" x2="501" y2="376.5" stroke="#d6392e" stroke-width="1.8"/>
<line x1="290.4" y1="327.4" x2="290.4" y2="380.6" stroke="#111" stroke-width="1.8"/>
<line x1="286.4" y1="327.4" x2="290.4" y2="327.4" stroke="#111" stroke-width="1.6"/>
<line x1="286.4" y1="340.7" x2="290.4" y2="340.7" stroke="#111" stroke-width="1.6"/>
<line x1="286.4" y1="354" x2="290.4" y2="354" stroke="#111" stroke-width="1.6"/>
<line x1="286.4" y1="367.3" x2="290.4" y2="367.3" stroke="#111" stroke-width="1.6"/>
<line x1="286.4" y1="380.6" x2="290.4" y2="380.6" stroke="#111" stroke-width="1.6"/>
<text x="283.8" y="330.7" font-size="9.3" text-anchor="end" fill="#1e1e1e" color="#1e1e1e">4</text>
<text x="283.8" y="344" font-size="9.3" text-anchor="end" fill="#1e1e1e" color="#1e1e1e">2</text>
<text x="283.8" y="357.3" font-size="9.3" text-anchor="end" fill="#1e1e1e" color="#1e1e1e">0</text>
<text x="283.8" y="370.6" font-size="9.3" text-anchor="end" fill="#1e1e1e" color="#1e1e1e">-2</text>
<text x="283.8" y="383.9" font-size="9.3" text-anchor="end" fill="#1e1e1e" color="#1e1e1e">-4</text>
<line x1="290.4" y1="354" x2="512.1" y2="354" stroke="#111" stroke-width="1.8"/>
<line x1="314.94" y1="354" x2="314.94" y2="357" stroke="#111" stroke-width="1.4"/>
<line x1="339.48" y1="354" x2="339.48" y2="357" stroke="#111" stroke-width="1.4"/>
<line x1="364.02" y1="354" x2="364.02" y2="357" stroke="#111" stroke-width="1.4"/>
<line x1="388.56" y1="354" x2="388.56" y2="357" stroke="#111" stroke-width="1.4"/>
<line x1="413.1" y1="354" x2="413.1" y2="357" stroke="#111" stroke-width="1.4"/>
<line x1="437.64" y1="354" x2="437.64" y2="357" stroke="#111" stroke-width="1.4"/>
<line x1="462.18" y1="354" x2="462.18" y2="357" stroke="#111" stroke-width="1.4"/>
<line x1="486.72" y1="354" x2="486.72" y2="357" stroke="#111" stroke-width="1.4"/>
<line x1="511.26" y1="354" x2="511.26" y2="357" stroke="#111" stroke-width="1.4"/>
<text transform="translate(273.7 353.5) rotate(-90)" font-size="9.2" text-anchor="middle" fill="#1e1e1e" color="#1e1e1e" textLength="26.5" lengthAdjust="spacingAndGlyphs">RATIO Z</text>
<text transform="translate(295.6 391.9) rotate(-90)" font-size="8.8" text-anchor="end" fill="#1e1e1e" color="#1e1e1e" textLength="27.6" lengthAdjust="spacingAndGlyphs" style="stroke-width:0.05px">6,0E+07</text>
<text transform="translate(320 391.9) rotate(-90)" font-size="8.8" text-anchor="end" fill="#1e1e1e" color="#1e1e1e" textLength="27.6" lengthAdjust="spacingAndGlyphs" style="stroke-width:0.05px">6,2E+07</text>
<text transform="translate(344.4 391.9) rotate(-90)" font-size="8.8" text-anchor="end" fill="#1e1e1e" color="#1e1e1e" textLength="27.6" lengthAdjust="spacingAndGlyphs" style="stroke-width:0.05px">6,4E+07</text>
<text transform="translate(368.8 391.9) rotate(-90)" font-size="8.8" text-anchor="end" fill="#1e1e1e" color="#1e1e1e" textLength="27.6" lengthAdjust="spacingAndGlyphs" style="stroke-width:0.05px">6,6E+07</text>
<text transform="translate(393.2 391.9) rotate(-90)" font-size="8.8" text-anchor="end" fill="#1e1e1e" color="#1e1e1e" textLength="27.6" lengthAdjust="spacingAndGlyphs" style="stroke-width:0.05px">6,8E+07</text>
<text transform="translate(417.6 391.9) rotate(-90)" font-size="8.8" text-anchor="end" fill="#1e1e1e" color="#1e1e1e" textLength="27.6" lengthAdjust="spacingAndGlyphs" style="stroke-width:0.05px">7,0E+07</text>
<text transform="translate(442 391.9) rotate(-90)" font-size="8.8" text-anchor="end" fill="#1e1e1e" color="#1e1e1e" textLength="27.6" lengthAdjust="spacingAndGlyphs" style="stroke-width:0.05px">7,2E+07</text>
<text transform="translate(466.4 391.9) rotate(-90)" font-size="8.8" text-anchor="end" fill="#1e1e1e" color="#1e1e1e" textLength="27.6" lengthAdjust="spacingAndGlyphs" style="stroke-width:0.05px">7,4E+07</text>
<text transform="translate(490.8 391.9) rotate(-90)" font-size="8.8" text-anchor="end" fill="#1e1e1e" color="#1e1e1e" textLength="27.6" lengthAdjust="spacingAndGlyphs" style="stroke-width:0.05px">7,6E+07</text>
<text transform="translate(515.2 391.9) rotate(-90)" font-size="8.8" text-anchor="end" fill="#1e1e1e" color="#1e1e1e" textLength="27.6" lengthAdjust="spacingAndGlyphs" style="stroke-width:0.05px">7,8E+07</text>
<polygon points="301,356.9 298.7,361.1 303.3,361.1" fill="#0e1608" stroke="#4d6a1a" stroke-width="0.5"/>
<polygon points="307.25,355.4 304.95,359.6 309.55,359.6" fill="#0e1608" stroke="#4d6a1a" stroke-width="0.5"/>
<polygon points="310.8,356.9 308.5,361.1 313.1,361.1" fill="#0e1608" stroke="#4d6a1a" stroke-width="0.5"/>
<polygon points="313.4,359 311.1,363.2 315.7,363.2" fill="#0e1608" stroke="#4d6a1a" stroke-width="0.5"/>
<polygon points="317.9,348.6 315.6,352.8 320.2,352.8" fill="#0e1608" stroke="#4d6a1a" stroke-width="0.5"/>
<polygon points="319.1,357.5 316.8,361.7 321.4,361.7" fill="#0e1608" stroke="#4d6a1a" stroke-width="0.5"/>
<polygon points="329,351.3 326.7,355.5 331.3,355.5" fill="#0e1608" stroke="#4d6a1a" stroke-width="0.5"/>
<polygon points="332.2,353 329.9,357.2 334.5,357.2" fill="#0e1608" stroke="#4d6a1a" stroke-width="0.5"/>
<polygon points="336.6,349.3 334.3,353.5 338.9,353.5" fill="#0e1608" stroke="#4d6a1a" stroke-width="0.5"/>
<polygon points="337.4,356.2 335.1,360.4 339.7,360.4" fill="#0e1608" stroke="#4d6a1a" stroke-width="0.5"/>
<polygon points="342,361.6 339.7,365.8 344.3,365.8" fill="#0e1608" stroke="#4d6a1a" stroke-width="0.5"/>
<polygon points="342.7,355.8 340.4,360 345,360" fill="#0e1608" stroke="#4d6a1a" stroke-width="0.5"/>
<polygon points="346.6,355.8 344.3,360 348.9,360" fill="#0e1608" stroke="#4d6a1a" stroke-width="0.5"/>
<polygon points="348.3,344.2 346,348.4 350.6,348.4" fill="#0e1608" stroke="#4d6a1a" stroke-width="0.5"/>
<polygon points="349.4,347.3 347.1,351.5 351.7,351.5" fill="#0e1608" stroke="#4d6a1a" stroke-width="0.5"/>
<polygon points="353.1,344.8 350.8,349 355.4,349" fill="#0e1608" stroke="#4d6a1a" stroke-width="0.5"/>
<polygon points="356.4,348.6 354.1,352.8 358.7,352.8" fill="#0e1608" stroke="#4d6a1a" stroke-width="0.5"/>
<polygon points="365.9,348.4 363.6,352.6 368.2,352.6" fill="#0e1608" stroke="#4d6a1a" stroke-width="0.5"/>
<polygon points="373.8,348.4 371.5,352.6 376.1,352.6" fill="#0e1608" stroke="#4d6a1a" stroke-width="0.5"/>
<polygon points="350,356 347.7,360.2 352.3,360.2" fill="#0e1608" stroke="#4d6a1a" stroke-width="0.5"/>
<polygon points="353.5,356 351.2,360.2 355.8,360.2" fill="#0e1608" stroke="#4d6a1a" stroke-width="0.5"/>
<polygon points="357.3,356 355,360.2 359.6,360.2" fill="#0e1608" stroke="#4d6a1a" stroke-width="0.5"/>
<polygon points="361.2,356 358.9,360.2 363.5,360.2" fill="#0e1608" stroke="#4d6a1a" stroke-width="0.5"/>
<polygon points="364.2,356 361.9,360.2 366.5,360.2" fill="#0e1608" stroke="#4d6a1a" stroke-width="0.5"/>
<polygon points="368.1,356 365.8,360.2 370.4,360.2" fill="#0e1608" stroke="#4d6a1a" stroke-width="0.5"/>
<polygon points="365.4,357.5 363.1,361.7 367.7,361.7" fill="#0e1608" stroke="#4d6a1a" stroke-width="0.5"/>
<polygon points="374,348.5 371.7,352.7 376.3,352.7" fill="#0e1608" stroke="#4d6a1a" stroke-width="0.5"/>
<polygon points="373.5,355.4 371.2,359.6 375.8,359.6" fill="#0e1608" stroke="#4d6a1a" stroke-width="0.5"/>
<polygon points="376.9,354.8 374.6,359 379.2,359" fill="#0e1608" stroke="#4d6a1a" stroke-width="0.5"/>
<polygon points="384.4,352.5 382.1,356.7 386.7,356.7" fill="#0e1608" stroke="#4d6a1a" stroke-width="0.5"/>
<polygon points="389,347.9 386.7,352.1 391.3,352.1" fill="#0e1608" stroke="#4d6a1a" stroke-width="0.5"/>
<polygon points="392.5,360.6 390.2,364.8 394.8,364.8" fill="#0e1608" stroke="#4d6a1a" stroke-width="0.5"/>
<polygon points="398.3,354.8 396,359 400.6,359" fill="#0e1608" stroke="#4d6a1a" stroke-width="0.5"/>
<polygon points="411,351.1 408.7,355.3 413.3,355.3" fill="#0e1608" stroke="#4d6a1a" stroke-width="0.5"/>
<polygon points="427.7,354.8 425.4,359 430,359" fill="#0e1608" stroke="#4d6a1a" stroke-width="0.5"/>
<polygon points="428.8,347.3 426.5,351.5 431.1,351.5" fill="#0e1608" stroke="#4d6a1a" stroke-width="0.5"/>
<polygon points="430.6,350.15 428.3,354.35 432.9,354.35" fill="#0e1608" stroke="#4d6a1a" stroke-width="0.5"/>
<polygon points="438.5,347.3 436.2,351.5 440.8,351.5" fill="#0e1608" stroke="#4d6a1a" stroke-width="0.5"/>
<polygon points="440,356 437.7,360.2 442.3,360.2" fill="#0e1608" stroke="#4d6a1a" stroke-width="0.5"/>
<polygon points="439.4,357.9 437.1,362.1 441.7,362.1" fill="#0e1608" stroke="#4d6a1a" stroke-width="0.5"/>
<polygon points="446.5,359.15 444.2,363.35 448.8,363.35" fill="#0e1608" stroke="#4d6a1a" stroke-width="0.5"/>
<polygon points="453.5,358.5 451.2,362.7 455.8,362.7" fill="#0e1608" stroke="#4d6a1a" stroke-width="0.5"/>
<polygon points="455.6,345.65 453.3,349.85 457.9,349.85" fill="#0e1608" stroke="#4d6a1a" stroke-width="0.5"/>
<polygon points="458.75,359.8 456.45,364 461.05,364" fill="#0e1608" stroke="#4d6a1a" stroke-width="0.5"/>
<polygon points="434.75,363.15 432.45,367.35 437.05,367.35" fill="#0e1608" stroke="#4d6a1a" stroke-width="0.5"/>
<polygon points="448.5,365.15 446.2,369.35 450.8,369.35" fill="#0e1608" stroke="#4d6a1a" stroke-width="0.5"/>
<polygon points="478.75,351.4 476.45,355.6 481.05,355.6" fill="#0e1608" stroke="#4d6a1a" stroke-width="0.5"/>
<polygon points="485,354.8 482.7,359 487.3,359" fill="#0e1608" stroke="#4d6a1a" stroke-width="0.5"/>
<polygon points="500.6,356.9 498.3,361.1 502.9,361.1" fill="#0e1608" stroke="#4d6a1a" stroke-width="0.5"/>
<polygon points="495.6,363.5 493.3,367.7 497.9,367.7" fill="#0e1608" stroke="#4d6a1a" stroke-width="0.5"/>
<polygon points="330,341.65 327.7,345.85 332.3,345.85" fill="#d6392e" stroke="#e8502a" stroke-width="0.5"/>
<polygon points="340,338.5 337.7,342.7 342.3,342.7" fill="#d6392e" stroke="#e8502a" stroke-width="0.5"/>
<polygon points="342.5,342.65 340.2,346.85 344.8,346.85" fill="#d6392e" stroke="#e8502a" stroke-width="0.5"/>
<polygon points="360,331.65 357.7,335.85 362.3,335.85" fill="#d6392e" stroke="#e8502a" stroke-width="0.5"/>
<polygon points="372.75,331.65 370.45,335.85 375.05,335.85" fill="#d6392e" stroke="#e8502a" stroke-width="0.5"/>
<polygon points="350.6,341 348.3,345.2 352.9,345.2" fill="#d6392e" stroke="#e8502a" stroke-width="0.5"/>
<polygon points="373.9,342.3 371.6,346.5 376.2,346.5" fill="#d6392e" stroke="#e8502a" stroke-width="0.5"/>
<polygon points="442.25,343.5 439.95,347.7 444.55,347.7" fill="#d6392e" stroke="#e8502a" stroke-width="0.5"/>
<line x1="322.5" y1="366.4" x2="332.2" y2="354.7" stroke="#333" stroke-width="0.9"/>
<line x1="367.3" y1="363.5" x2="358.8" y2="352.7" stroke="#333" stroke-width="0.9"/>
<text x="4" y="10.5" font-size="12.2" text-anchor="start" fill="#000" color="#000" font-weight="bold">A</text>
<text x="18.5" y="8.2" font-size="9.8" text-anchor="start" fill="#1e1e1e" color="#1e1e1e" textLength="29.4" lengthAdjust="spacingAndGlyphs">Chr 11 -</text>
<text x="55.2" y="8.2" font-size="9.8" text-anchor="start" fill="#1e1e1e" color="#1e1e1e" textLength="9.8" lengthAdjust="spacingAndGlyphs">RV</text>
<text x="69.9" y="8.2" font-size="9.8" text-anchor="start" fill="#1e1e1e" color="#1e1e1e" textLength="43.4" lengthAdjust="spacingAndGlyphs">X-SCID-CGD</text>
<text x="278.5" y="8.2" font-size="9.8" text-anchor="start" fill="#1e1e1e" color="#1e1e1e" textLength="29.6" lengthAdjust="spacingAndGlyphs">Chr 12 -</text>
<text x="314.8" y="8.2" font-size="9.8" text-anchor="start" fill="#1e1e1e" color="#1e1e1e" textLength="9.8" lengthAdjust="spacingAndGlyphs">RV</text>
<text x="329.2" y="8.2" font-size="9.8" text-anchor="start" fill="#1e1e1e" color="#1e1e1e" textLength="44.5" lengthAdjust="spacingAndGlyphs">X-SCID-CGD</text>
<text x="124.8" y="16.9" font-size="9.3" text-anchor="start" fill="#1e1e1e" color="#1e1e1e" font-style="italic" textLength="36.4" lengthAdjust="spacingAndGlyphs">LMO2 (7)</text>
<text x="384.1" y="14.9" font-size="9.3" text-anchor="start" fill="#1e1e1e" color="#1e1e1e" font-style="italic" textLength="42.4" lengthAdjust="spacingAndGlyphs">CCND2 (9)</text>
<text x="2.8" y="151.5" font-size="12.2" text-anchor="start" fill="#000" color="#000" font-weight="bold">B</text>
<text x="16.9" y="150.1" font-size="9.8" text-anchor="start" fill="#1e1e1e" color="#1e1e1e" textLength="46.2" lengthAdjust="spacingAndGlyphs">Mus Chr 6 –</text>
<text x="66.5" y="150.1" font-size="9.8" text-anchor="start" fill="#1e1e1e" color="#1e1e1e" textLength="33.4" lengthAdjust="spacingAndGlyphs">LV.SF.LTR</text>
<text x="107.2" y="150.1" font-size="9.8" text-anchor="start" fill="#1e1e1e" color="#1e1e1e" font-style="italic" textLength="28.5" lengthAdjust="spacingAndGlyphs">Cdkn2a</text>
<text x="137.2" y="146.1" font-size="7" text-anchor="start" fill="#1e1e1e" color="#1e1e1e" font-style="italic" textLength="6.6" lengthAdjust="spacingAndGlyphs">-/-</text>
<text x="182.5" y="157.9" font-size="9.3" text-anchor="start" fill="#1e1e1e" color="#1e1e1e" font-style="italic" textLength="33.7" lengthAdjust="spacingAndGlyphs">Braf (68)</text>
<text x="261.3" y="151.7" font-size="12.2" text-anchor="start" fill="#000" color="#000" font-weight="bold">C</text>
<text x="276.9" y="149.7" font-size="9.8" text-anchor="start" fill="#1e1e1e" color="#1e1e1e" textLength="58.8" lengthAdjust="spacingAndGlyphs">Mus Chr 6 – SB</text>
<text x="338.2" y="148.1" font-size="9.5" text-anchor="start" fill="#1e1e1e" color="#1e1e1e" font-style="italic" textLength="11.6" lengthAdjust="spacingAndGlyphs">Arf</text>
<text x="353" y="143.8" font-size="7" text-anchor="start" fill="#1e1e1e" color="#1e1e1e" font-style="italic" textLength="6.4" lengthAdjust="spacingAndGlyphs">-/-</text>
<text x="388.6" y="155.8" font-size="9.3" text-anchor="start" fill="#1e1e1e" color="#1e1e1e" font-style="italic" textLength="33.7" lengthAdjust="spacingAndGlyphs">Braf (24)</text>
<text x="3.4" y="309.3" font-size="12.2" text-anchor="start" fill="#000" color="#000" font-weight="bold">D</text>
<text x="18.4" y="307.1" font-size="9.8" text-anchor="start" fill="#1e1e1e" color="#1e1e1e" textLength="36.5" lengthAdjust="spacingAndGlyphs">Chr 6 - LV</text>
<text x="60.3" y="307.1" font-size="9.8" text-anchor="start" fill="#1e1e1e" color="#1e1e1e" textLength="39.6" lengthAdjust="spacingAndGlyphs">ALD -ARSA</text>
<text x="278" y="306.8" font-size="9.8" text-anchor="start" fill="#1e1e1e" color="#1e1e1e" textLength="41.1" lengthAdjust="spacingAndGlyphs">Chr 11 - LV</text>
<text x="323.9" y="306.8" font-size="9.8" text-anchor="start" fill="#1e1e1e" color="#1e1e1e" textLength="40.2" lengthAdjust="spacingAndGlyphs">ALD -ARSA</text>
<text transform="translate(133.1 324.4) rotate(-90)" font-size="7.6" text-anchor="start" fill="#1e1e1e" color="#1e1e1e" font-style="italic" textLength="44.8" lengthAdjust="spacingAndGlyphs" style="stroke-width:0.08px">C6orf10 (13)</text>
<text transform="translate(142.3 324.4) rotate(-90)" font-size="7.6" text-anchor="start" fill="#1e1e1e" color="#1e1e1e" font-style="italic" textLength="47.1" lengthAdjust="spacingAndGlyphs" style="stroke-width:0.08px">HLA-DBR1 (6)</text>
<text transform="translate(151.1 324.4) rotate(-90)" font-size="7.6" text-anchor="start" fill="#1e1e1e" color="#1e1e1e" font-style="italic" textLength="49.4" lengthAdjust="spacingAndGlyphs" style="stroke-width:0.08px">HLA-DQA1 (5)</text>
<text transform="translate(160.3 324.4) rotate(-90)" font-size="7.6" text-anchor="start" fill="#1e1e1e" color="#1e1e1e" font-style="italic" textLength="50.9" lengthAdjust="spacingAndGlyphs" style="stroke-width:0.08px">HLA-DMB (12)</text>
<text transform="translate(168.4 324.4) rotate(-90)" font-size="7.6" text-anchor="start" fill="#1e1e1e" color="#1e1e1e" font-style="italic" textLength="45.2" lengthAdjust="spacingAndGlyphs" style="stroke-width:0.08px">HLA-DOA (4)</text>
<text transform="translate(176.8 324.4) rotate(-90)" font-size="7.6" text-anchor="start" fill="#1e1e1e" color="#1e1e1e" font-style="italic" textLength="42.5" lengthAdjust="spacingAndGlyphs" style="stroke-width:0.08px">HLA-DPA (4)</text>
<text transform="translate(299.2 324) rotate(19.5)" font-size="8.4" text-anchor="start" fill="#1e1e1e" color="#1e1e1e" font-style="italic" textLength="46" lengthAdjust="spacingAndGlyphs" style="stroke-width:0.12px">SLC22A11 (6)</text>
<text x="296" y="347" font-size="8.4" text-anchor="start" fill="#1e1e1e" color="#1e1e1e" font-style="italic" textLength="30" lengthAdjust="spacingAndGlyphs" style="stroke-width:0.12px">RTN3 (7)</text>
<text transform="translate(359.8 325.8) rotate(-15.5)" font-size="8.3" text-anchor="start" fill="#1e1e1e" color="#1e1e1e" textLength="88.5" lengthAdjust="spacingAndGlyphs" style="stroke-width:0.1px">PACS1/HLA-DOA11 (5-29)</text>
<text transform="translate(380 328.4) rotate(-15.5)" font-size="8.3" text-anchor="start" fill="#1e1e1e" color="#1e1e1e" textLength="40" lengthAdjust="spacingAndGlyphs" style="stroke-width:0.1px">FBXL11 (27)</text>
<text x="380.4" y="347.9" font-size="8.4" text-anchor="start" fill="#1e1e1e" color="#1e1e1e" font-style="italic" textLength="50.2" lengthAdjust="spacingAndGlyphs" style="stroke-width:0.12px">ANKRD13D (4)</text>
<text x="443.75" y="339.2" font-size="8.4" text-anchor="start" fill="#1e1e1e" color="#1e1e1e" font-style="italic" textLength="42.5" lengthAdjust="spacingAndGlyphs" style="stroke-width:0.12px">FCSHD2 (13)</text>
<text x="317" y="372.9" font-size="8.4" text-anchor="start" fill="#1e1e1e" color="#1e1e1e" font-style="italic" textLength="23.8" lengthAdjust="spacingAndGlyphs" style="stroke-width:0.12px">SF1 (4)</text>
<text x="348.8" y="372.3" font-size="8.4" text-anchor="start" fill="#1e1e1e" color="#1e1e1e" font-style="italic" textLength="36.8" lengthAdjust="spacingAndGlyphs" style="stroke-width:0.12px">FRDM8 (5)</text>
</svg></body></html>
